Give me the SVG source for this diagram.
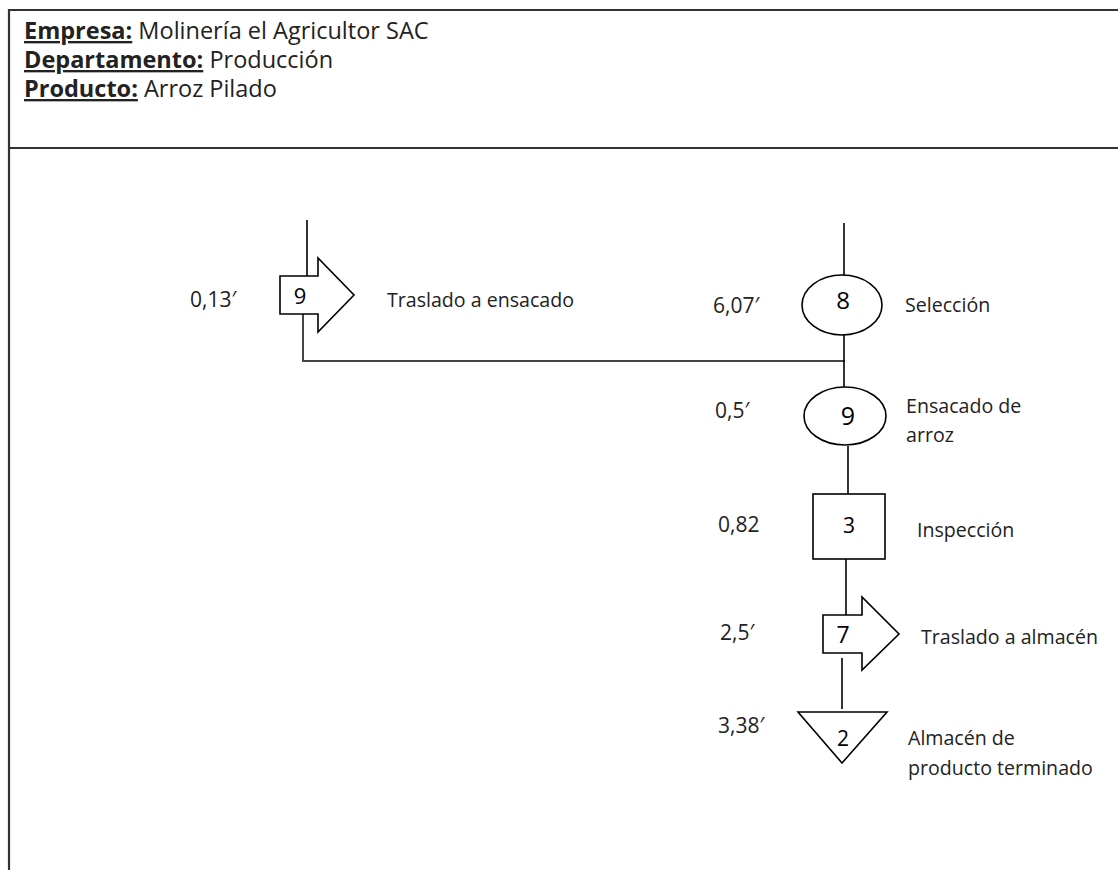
<svg xmlns="http://www.w3.org/2000/svg" width="1118" height="870" viewBox="0 0 1118 870">
<style>
text{font-family:"Open Sans","Liberation Sans",sans-serif;fill:#222;}
.hdr{font-size:23.5px;}
.b{font-weight:bold;text-decoration:underline;}
.lbl{font-size:19.6px;}
.num{font-size:21px;}
.dig{text-anchor:middle;fill:#000;}
.sh{fill:#fff;stroke:#000;stroke-width:1.6;}
.ln{fill:none;stroke:#000;stroke-width:1.6;}
.frame{fill:none;stroke:#333;stroke-width:2.2;}
</style>
<rect width="1118" height="870" fill="#fff"/>
<g id="frame">
<path class="frame" d="M1118,10 H9 V870"/>
<line class="frame" x1="9" y1="148" x2="1118" y2="148"/>
</g>
<g id="header">
<text class="hdr" x="24" y="39"><tspan class="b">Empresa:</tspan> Molinería el Agricultor SAC</text>
<text class="hdr" x="24" y="68"><tspan class="b">Departamento:</tspan> Producción</text>
<text class="hdr" x="24" y="97"><tspan class="b">Producto:</tspan> Arroz Pilado</text>
</g>
<g id="connectors">
<line class="ln" x1="307" y1="220" x2="307" y2="276"/>
<polyline class="ln" points="303,314 303,361 845,361" style="stroke:#444;stroke-width:2"/>
<line class="ln" x1="844" y1="223" x2="844" y2="275"/>
<line class="ln" x1="844" y1="335" x2="844" y2="387"/>
<line class="ln" x1="848" y1="446" x2="848" y2="494"/>
<line class="ln" x1="846" y1="559" x2="846" y2="615"/>
<line class="ln" x1="842" y1="658" x2="842" y2="709"/>
</g>
<g id="n-traslado-ensacado">
<polygon class="sh" points="280,276 318,276 318,258 354,295 318,332 318,314 280,314"/>
<text class="dig" x="300" y="304" font-size="22">9</text>
<text class="num" x="190" y="307">0,13′</text>
<text class="lbl" x="387" y="307">Traslado a ensacado</text>
</g>
<g id="n-seleccion">
<ellipse class="sh" cx="842" cy="305" rx="40" ry="30"/>
<text class="dig" x="843" y="309" font-size="24">8</text>
<text class="num" x="713" y="313">6,07′</text>
<text class="lbl" x="905" y="312">Selección</text>
</g>
<g id="n-ensacado">
<ellipse class="sh" cx="845" cy="416" rx="41" ry="29"/>
<text class="dig" x="848" y="425" font-size="25">9</text>
<text class="num" x="715" y="418">0,5′</text>
<text class="lbl" x="906" y="413">Ensacado de</text>
<text class="lbl" x="906" y="442">arroz</text>
</g>
<g id="n-inspeccion">
<rect class="sh" x="813" y="494" width="72" height="65"/>
<text class="dig" x="849" y="533" font-size="21">3</text>
<text class="num" x="718" y="532">0,82</text>
<text class="lbl" x="917" y="537">Inspección</text>
</g>
<g id="n-traslado-almacen">
<polygon class="sh" points="823,615 862,615 862,597 899,634 862,670 862,653 823,653"/>
<text class="dig" x="843" y="643" font-size="23">7</text>
<text class="num" x="720" y="640">2,5′</text>
<text class="lbl" x="921" y="644">Traslado a almacén</text>
</g>
<g id="n-almacen">
<polygon class="sh" points="798,712 887,712 842,763"/>
<text class="dig" x="843" y="746" font-size="21">2</text>
<text class="num" x="718" y="733">3,38′</text>
<text class="lbl" x="908" y="745">Almacén de</text>
<text class="lbl" x="908" y="775">producto terminado</text>
</g>
</svg>
